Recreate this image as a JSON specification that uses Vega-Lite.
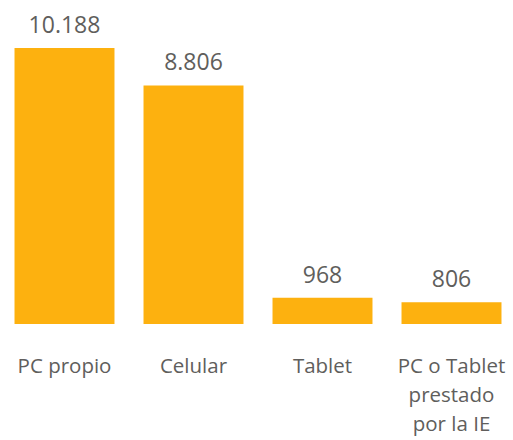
{
  "$schema": "https://vega.github.io/schema/vega-lite/v6.json",
  "width": 516,
  "height": 276,
  "autosize": {"type": "none"},
  "padding": {"left": 0, "top": 48, "right": 0, "bottom": 116},
  "background": "white",
  "config": {
    "view": {"stroke": null},
    "locale": {"number": {"decimal": ",", "thousands": ".", "grouping": [3], "currency": ["", ""]}},
    "font": "Open Sans"
  },
  "data": {
    "values": [
      {"dispositivo": "PC propio", "valor": 10188},
      {"dispositivo": "Celular", "valor": 8806},
      {"dispositivo": "Tablet", "valor": 968},
      {"dispositivo": "PC o Tablet prestado por la IE", "valor": 806}
    ]
  },
  "encoding": {
    "x": {
      "field": "dispositivo",
      "type": "nominal",
      "sort": null,
      "scale": {"paddingInner": 0.225, "paddingOuter": 0.1125},
      "axis": {
        "title": null,
        "domain": false,
        "ticks": false,
        "labelAngle": 0,
        "labelFont": "Open Sans",
        "labelFontSize": 20.5,
        "labelFontWeight": "normal",
        "labelColor": "#605E5C",
        "labelPadding": 32,
        "labelLineHeight": 29,
        "labelBaseline": "top",
        "labelExpr": "datum.label == 'PC o Tablet prestado por la IE' ? ['PC o Tablet', 'prestado', 'por la IE'] : datum.label"
      }
    },
    "y": {
      "field": "valor",
      "type": "quantitative",
      "scale": {"domain": [0, 10188], "nice": false},
      "axis": null
    }
  },
  "layer": [
    {"mark": {"type": "bar", "color": "#FDB10F"}},
    {
      "mark": {"type": "text", "baseline": "alphabetic", "dy": -15, "fontSize": 23, "color": "#605E5C", "font": "Open Sans"},
      "encoding": {"text": {"field": "valor", "type": "quantitative", "format": ",d"}}
    }
  ]
}
